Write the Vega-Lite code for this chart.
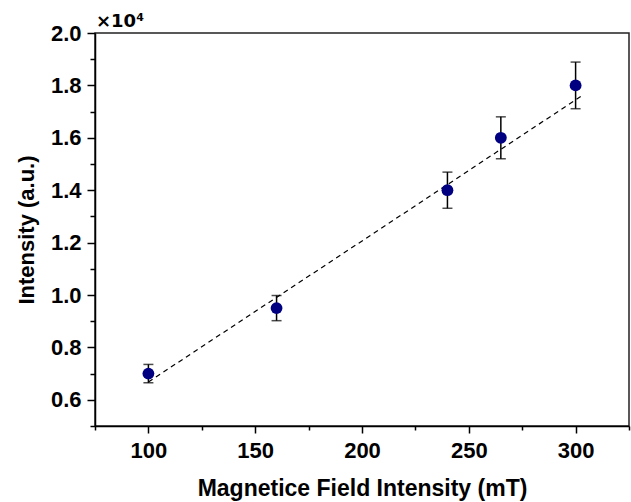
{
  "$schema": "https://vega.github.io/schema/vega-lite/v6.json",
  "width": 534,
  "height": 393,
  "autosize": "none",
  "padding": {"left": 95, "top": 33, "right": 2, "bottom": 76},
  "background": "white",
  "title": {"text": "×10⁴", "anchor": "start", "frame": "group", "font": "DejaVu Sans", "fontSize": 18, "fontWeight": "bold", "color": "black", "offset": 0, "dx": 1, "dy": 9},
  "config": {
    "view": {"stroke": "#222", "strokeWidth": 1.5},
    "axis": {
      "domainColor": "black", "domainWidth": 1.5,
      "tickColor": "black", "tickWidth": 1.5,
      "labelFont": "Liberation Sans", "labelFontWeight": "bold", "labelFontSize": 22, "labelColor": "black",
      "titleFont": "Liberation Sans", "titleFontWeight": "bold", "titleColor": "black",
      "grid": false
    }
  },
  "data": {"values": [
    {"field": 100, "intensity": 7000, "err": 350},
    {"field": 160, "intensity": 9500, "err": 480},
    {"field": 240, "intensity": 14000, "err": 690},
    {"field": 265, "intensity": 16000, "err": 800},
    {"field": 300, "intensity": 18000, "err": 890}
  ]},
  "encoding": {
    "x": {
      "field": "field", "type": "quantitative",
      "scale": {"domain": [75, 325], "nice": false, "zero": false},
      "axis": {
        "title": "Magnetice Field Intensity (mT)",
        "titleFontSize": 23,
        "values": [75, 100, 125, 150, 175, 200, 225, 250, 275, 300, 325],
        "labelExpr": "datum.value % 50 === 0 ? datum.label : ''",
        "tickSize": {"condition": {"test": "datum.value % 50 === 0", "value": 7}, "value": 4},
        "labelPadding": 7,
        "titlePadding": 16
      }
    },
    "y": {
      "field": "intensity", "type": "quantitative",
      "scale": {"domain": [5000, 20000], "nice": false, "zero": false},
      "axis": {
        "title": "Intensity (a.u.)",
        "titleFontSize": 22,
        "values": [5000, 6000, 7000, 8000, 9000, 10000, 11000, 12000, 13000, 14000, 15000, 16000, 17000, 18000, 19000, 20000],
        "labelExpr": "datum.value % 2000 === 0 ? format(datum.value / 10000, '.1f') : ''",
        "tickSize": {"condition": {"test": "datum.value % 2000 === 0", "value": 8}, "value": 5},
        "labelPadding": 6,
        "titlePadding": 12
      }
    }
  },
  "layer": [
    {
      "data": {"values": [
        {"field": 100, "intensity": 6680},
        {"field": 302.5, "intensity": 17580}
      ]},
      "mark": {"type": "line", "color": "black", "strokeWidth": 1.2, "strokeDash": [5, 4]}
    },
    {
      "mark": {"type": "errorbar", "color": "black", "thickness": 1.5, "ticks": {"size": 10, "thickness": 1.5, "color": "black"}},
      "encoding": {
        "yError": {"field": "err"}
      }
    },
    {
      "mark": {"type": "point", "filled": true, "shape": "circle", "size": 140, "color": "#000080", "opacity": 1}
    }
  ]
}
